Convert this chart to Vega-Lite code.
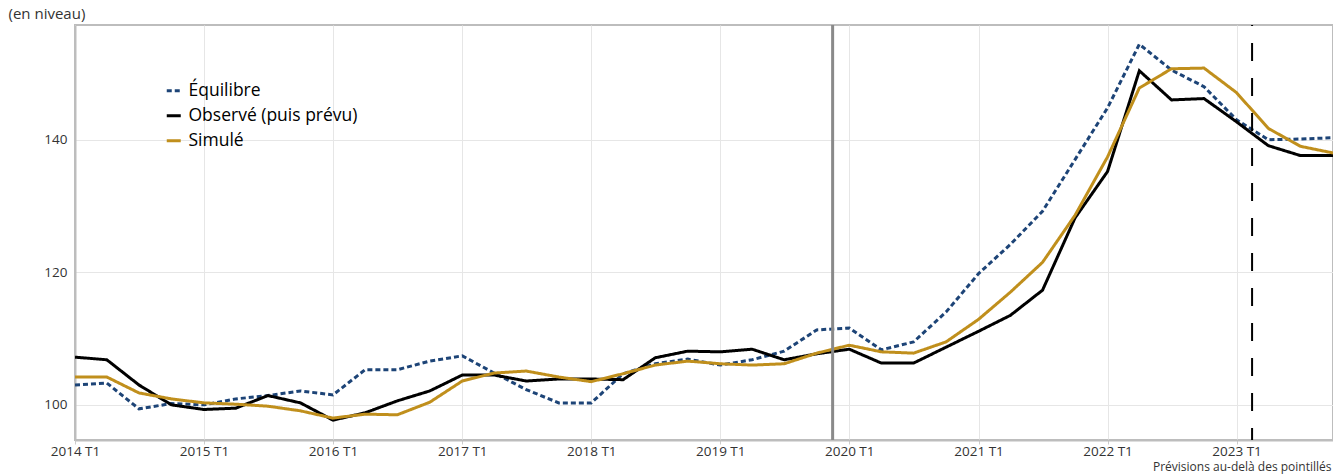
{
  "$schema": "https://vega.github.io/schema/vega-lite/v6.json",
  "width": 1258,
  "height": 415,
  "autosize": {"type": "none"},
  "padding": {"left": 75, "top": 25, "right": 0, "bottom": 34},
  "background": "white",
  "config": {
    "font": "Open Sans",
    "view": {"stroke": "#bdbdbd", "strokeWidth": 2},
    "axis": {"labelColor": "#333333", "labelFont": "Open Sans", "titleFont": "Open Sans", "titleColor": "#333333", "gridColor": "#e6e6e6", "gridWidth": 1, "domainColor": "#bdbdbd", "domainWidth": 2}
  },
  "layer": [
    {
      "data": {
        "values": [
          {"date": "2014-01-01", "serie": "Équilibre", "valeur": 103.0},
          {"date": "2014-04-01", "serie": "Équilibre", "valeur": 103.3},
          {"date": "2014-07-01", "serie": "Équilibre", "valeur": 99.4},
          {"date": "2014-10-01", "serie": "Équilibre", "valeur": 100.2},
          {"date": "2015-01-01", "serie": "Équilibre", "valeur": 100.0},
          {"date": "2015-04-01", "serie": "Équilibre", "valeur": 100.9},
          {"date": "2015-07-01", "serie": "Équilibre", "valeur": 101.4},
          {"date": "2015-10-01", "serie": "Équilibre", "valeur": 102.1},
          {"date": "2016-01-01", "serie": "Équilibre", "valeur": 101.5},
          {"date": "2016-04-01", "serie": "Équilibre", "valeur": 105.3},
          {"date": "2016-07-01", "serie": "Équilibre", "valeur": 105.3},
          {"date": "2016-10-01", "serie": "Équilibre", "valeur": 106.6},
          {"date": "2017-01-01", "serie": "Équilibre", "valeur": 107.4},
          {"date": "2017-04-01", "serie": "Équilibre", "valeur": 104.8},
          {"date": "2017-07-01", "serie": "Équilibre", "valeur": 102.3},
          {"date": "2017-10-01", "serie": "Équilibre", "valeur": 100.3},
          {"date": "2018-01-01", "serie": "Équilibre", "valeur": 100.3},
          {"date": "2018-04-01", "serie": "Équilibre", "valeur": 104.7},
          {"date": "2018-07-01", "serie": "Équilibre", "valeur": 106.2},
          {"date": "2018-10-01", "serie": "Équilibre", "valeur": 106.9},
          {"date": "2019-01-01", "serie": "Équilibre", "valeur": 106.0},
          {"date": "2019-04-01", "serie": "Équilibre", "valeur": 106.8},
          {"date": "2019-07-01", "serie": "Équilibre", "valeur": 108.1},
          {"date": "2019-10-01", "serie": "Équilibre", "valeur": 111.3},
          {"date": "2020-01-01", "serie": "Équilibre", "valeur": 111.6},
          {"date": "2020-04-01", "serie": "Équilibre", "valeur": 108.3},
          {"date": "2020-07-01", "serie": "Équilibre", "valeur": 109.5},
          {"date": "2020-10-01", "serie": "Équilibre", "valeur": 114.0},
          {"date": "2021-01-01", "serie": "Équilibre", "valeur": 119.8},
          {"date": "2021-04-01", "serie": "Équilibre", "valeur": 124.2},
          {"date": "2021-07-01", "serie": "Équilibre", "valeur": 129.2},
          {"date": "2021-10-01", "serie": "Équilibre", "valeur": 137.0},
          {"date": "2022-01-01", "serie": "Équilibre", "valeur": 144.8},
          {"date": "2022-04-01", "serie": "Équilibre", "valeur": 154.4},
          {"date": "2022-07-01", "serie": "Équilibre", "valeur": 150.5},
          {"date": "2022-10-01", "serie": "Équilibre", "valeur": 148.0},
          {"date": "2023-01-01", "serie": "Équilibre", "valeur": 143.0},
          {"date": "2023-04-01", "serie": "Équilibre", "valeur": 140.0},
          {"date": "2023-07-01", "serie": "Équilibre", "valeur": 140.1},
          {"date": "2023-10-01", "serie": "Équilibre", "valeur": 140.3},
          {"date": "2014-01-01", "serie": "Observé (puis prévu)", "valeur": 107.2},
          {"date": "2014-04-01", "serie": "Observé (puis prévu)", "valeur": 106.8},
          {"date": "2014-07-01", "serie": "Observé (puis prévu)", "valeur": 103.0},
          {"date": "2014-10-01", "serie": "Observé (puis prévu)", "valeur": 100.0},
          {"date": "2015-01-01", "serie": "Observé (puis prévu)", "valeur": 99.3},
          {"date": "2015-04-01", "serie": "Observé (puis prévu)", "valeur": 99.5},
          {"date": "2015-07-01", "serie": "Observé (puis prévu)", "valeur": 101.4},
          {"date": "2015-10-01", "serie": "Observé (puis prévu)", "valeur": 100.3},
          {"date": "2016-01-01", "serie": "Observé (puis prévu)", "valeur": 97.7},
          {"date": "2016-04-01", "serie": "Observé (puis prévu)", "valeur": 98.8},
          {"date": "2016-07-01", "serie": "Observé (puis prévu)", "valeur": 100.6},
          {"date": "2016-10-01", "serie": "Observé (puis prévu)", "valeur": 102.1},
          {"date": "2017-01-01", "serie": "Observé (puis prévu)", "valeur": 104.5},
          {"date": "2017-04-01", "serie": "Observé (puis prévu)", "valeur": 104.5},
          {"date": "2017-07-01", "serie": "Observé (puis prévu)", "valeur": 103.6},
          {"date": "2017-10-01", "serie": "Observé (puis prévu)", "valeur": 103.9},
          {"date": "2018-01-01", "serie": "Observé (puis prévu)", "valeur": 103.9},
          {"date": "2018-04-01", "serie": "Observé (puis prévu)", "valeur": 103.8},
          {"date": "2018-07-01", "serie": "Observé (puis prévu)", "valeur": 107.1},
          {"date": "2018-10-01", "serie": "Observé (puis prévu)", "valeur": 108.1},
          {"date": "2019-01-01", "serie": "Observé (puis prévu)", "valeur": 108.0},
          {"date": "2019-04-01", "serie": "Observé (puis prévu)", "valeur": 108.4},
          {"date": "2019-07-01", "serie": "Observé (puis prévu)", "valeur": 106.8},
          {"date": "2019-10-01", "serie": "Observé (puis prévu)", "valeur": 107.7},
          {"date": "2020-01-01", "serie": "Observé (puis prévu)", "valeur": 108.4},
          {"date": "2020-04-01", "serie": "Observé (puis prévu)", "valeur": 106.3},
          {"date": "2020-07-01", "serie": "Observé (puis prévu)", "valeur": 106.3},
          {"date": "2020-10-01", "serie": "Observé (puis prévu)", "valeur": 108.7},
          {"date": "2021-01-01", "serie": "Observé (puis prévu)", "valeur": 111.1},
          {"date": "2021-04-01", "serie": "Observé (puis prévu)", "valeur": 113.5},
          {"date": "2021-07-01", "serie": "Observé (puis prévu)", "valeur": 117.3},
          {"date": "2021-10-01", "serie": "Observé (puis prévu)", "valeur": 128.2},
          {"date": "2022-01-01", "serie": "Observé (puis prévu)", "valeur": 135.2},
          {"date": "2022-04-01", "serie": "Observé (puis prévu)", "valeur": 150.4},
          {"date": "2022-07-01", "serie": "Observé (puis prévu)", "valeur": 146.0},
          {"date": "2022-10-01", "serie": "Observé (puis prévu)", "valeur": 146.2},
          {"date": "2023-01-01", "serie": "Observé (puis prévu)", "valeur": 142.7},
          {"date": "2023-04-01", "serie": "Observé (puis prévu)", "valeur": 139.1},
          {"date": "2023-07-01", "serie": "Observé (puis prévu)", "valeur": 137.6},
          {"date": "2023-10-01", "serie": "Observé (puis prévu)", "valeur": 137.6},
          {"date": "2014-01-01", "serie": "Simulé", "valeur": 104.2},
          {"date": "2014-04-01", "serie": "Simulé", "valeur": 104.2},
          {"date": "2014-07-01", "serie": "Simulé", "valeur": 101.8},
          {"date": "2014-10-01", "serie": "Simulé", "valeur": 100.9},
          {"date": "2015-01-01", "serie": "Simulé", "valeur": 100.3},
          {"date": "2015-04-01", "serie": "Simulé", "valeur": 100.1},
          {"date": "2015-07-01", "serie": "Simulé", "valeur": 99.8},
          {"date": "2015-10-01", "serie": "Simulé", "valeur": 99.1},
          {"date": "2016-01-01", "serie": "Simulé", "valeur": 98.0},
          {"date": "2016-04-01", "serie": "Simulé", "valeur": 98.6},
          {"date": "2016-07-01", "serie": "Simulé", "valeur": 98.5},
          {"date": "2016-10-01", "serie": "Simulé", "valeur": 100.4},
          {"date": "2017-01-01", "serie": "Simulé", "valeur": 103.6},
          {"date": "2017-04-01", "serie": "Simulé", "valeur": 104.8},
          {"date": "2017-07-01", "serie": "Simulé", "valeur": 105.1},
          {"date": "2017-10-01", "serie": "Simulé", "valeur": 104.2},
          {"date": "2018-01-01", "serie": "Simulé", "valeur": 103.5},
          {"date": "2018-04-01", "serie": "Simulé", "valeur": 104.7},
          {"date": "2018-07-01", "serie": "Simulé", "valeur": 106.0},
          {"date": "2018-10-01", "serie": "Simulé", "valeur": 106.6},
          {"date": "2019-01-01", "serie": "Simulé", "valeur": 106.2},
          {"date": "2019-04-01", "serie": "Simulé", "valeur": 106.0},
          {"date": "2019-07-01", "serie": "Simulé", "valeur": 106.2},
          {"date": "2019-10-01", "serie": "Simulé", "valeur": 107.8},
          {"date": "2020-01-01", "serie": "Simulé", "valeur": 109.0},
          {"date": "2020-04-01", "serie": "Simulé", "valeur": 108.0},
          {"date": "2020-07-01", "serie": "Simulé", "valeur": 107.8},
          {"date": "2020-10-01", "serie": "Simulé", "valeur": 109.5},
          {"date": "2021-01-01", "serie": "Simulé", "valeur": 112.9},
          {"date": "2021-04-01", "serie": "Simulé", "valeur": 117.0},
          {"date": "2021-07-01", "serie": "Simulé", "valeur": 121.5},
          {"date": "2021-10-01", "serie": "Simulé", "valeur": 128.6},
          {"date": "2022-01-01", "serie": "Simulé", "valeur": 137.4},
          {"date": "2022-04-01", "serie": "Simulé", "valeur": 147.8},
          {"date": "2022-07-01", "serie": "Simulé", "valeur": 150.7},
          {"date": "2022-10-01", "serie": "Simulé", "valeur": 150.8},
          {"date": "2023-01-01", "serie": "Simulé", "valeur": 147.1},
          {"date": "2023-04-01", "serie": "Simulé", "valeur": 141.7},
          {"date": "2023-07-01", "serie": "Simulé", "valeur": 139.0},
          {"date": "2023-10-01", "serie": "Simulé", "valeur": 138.0}
        ]
      },
      "mark": {"type": "line", "strokeWidth": 3, "clip": true},
      "encoding": {
        "x": {
          "field": "date",
          "type": "temporal",
          "scale": {"type": "utc", "domain": [{"year": 2014, "month": 1, "date": 1, "utc": true}, {"year": 2023, "month": 10, "date": 1, "utc": true}]},
          "axis": {
            "tickCount": {"interval": "year", "step": 1},
            "labelExpr": "utcFormat(datum.value, '%Y') + ' T1'",
            "labelFontSize": 13.5,
            "labelPadding": 0,
            "labelOverlap": false,
            "labelFlush": false,
            "ticks": true,
            "tickColor": "#cccccc",
            "tickSize": 4,
            "grid": true,
            "title": "Prévisions au-delà des pointillés",
            "titleFontSize": 12,
            "titleFontWeight": "normal",
            "titleAlign": "right",
            "titleAnchor": null,
            "titleX": 1256,
            "titleY": 30.5,
            "titleBaseline": "alphabetic"
          }
        },
        "y": {
          "field": "valeur",
          "type": "quantitative",
          "scale": {"domain": [94.7, 157.3], "nice": false, "zero": false},
          "axis": {
            "values": [100, 120, 140],
            "grid": true,
            "ticks": false,
            "labelPadding": 8,
            "labelFontSize": 13.5,
            "title": "(en niveau)",
            "titleAngle": 0,
            "titleAlign": "left",
            "titleBaseline": "alphabetic",
            "titleX": -67,
            "titleY": -7,
            "titleFontSize": 15,
            "titleFontWeight": "normal"
          }
        },
        "color": {
          "field": "serie",
          "type": "nominal",
          "scale": {"domain": ["Équilibre", "Observé (puis prévu)", "Simulé"], "range": ["#1d4477", "#000000", "#c08f1c"]},
          "legend": {
            "title": null,
            "orient": "none",
            "legendX": 90,
            "legendY": 57,
            "symbolType": "stroke",
            "symbolStrokeWidth": 3,
            "symbolSize": 196,
            "labelFontSize": 17.5,
            "labelColor": "#000000",
            "labelFont": "Open Sans",
            "labelLimit": 0,
            "labelOffset": 6,
            "rowPadding": 6
          }
        },
        "strokeDash": {
          "field": "serie",
          "type": "nominal",
          "scale": {"domain": ["Équilibre", "Observé (puis prévu)", "Simulé"], "range": [[5, 3], [1, 0], [1, 0]]},
          "legend": null
        }
      }
    },
    {
      "data": {"values": [{"date": "2019-11-15"}]},
      "mark": {"type": "rule", "color": "#8a8a8a", "strokeWidth": 3},
      "encoding": {"x": {"field": "date", "type": "temporal"}}
    },
    {
      "data": {"values": [{"date": "2023-02-14"}]},
      "mark": {"type": "rule", "color": "#000000", "strokeWidth": 2, "strokeDash": [18, 17], "strokeDashOffset": 17},
      "encoding": {"x": {"field": "date", "type": "temporal"}}
    }
  ]
}
